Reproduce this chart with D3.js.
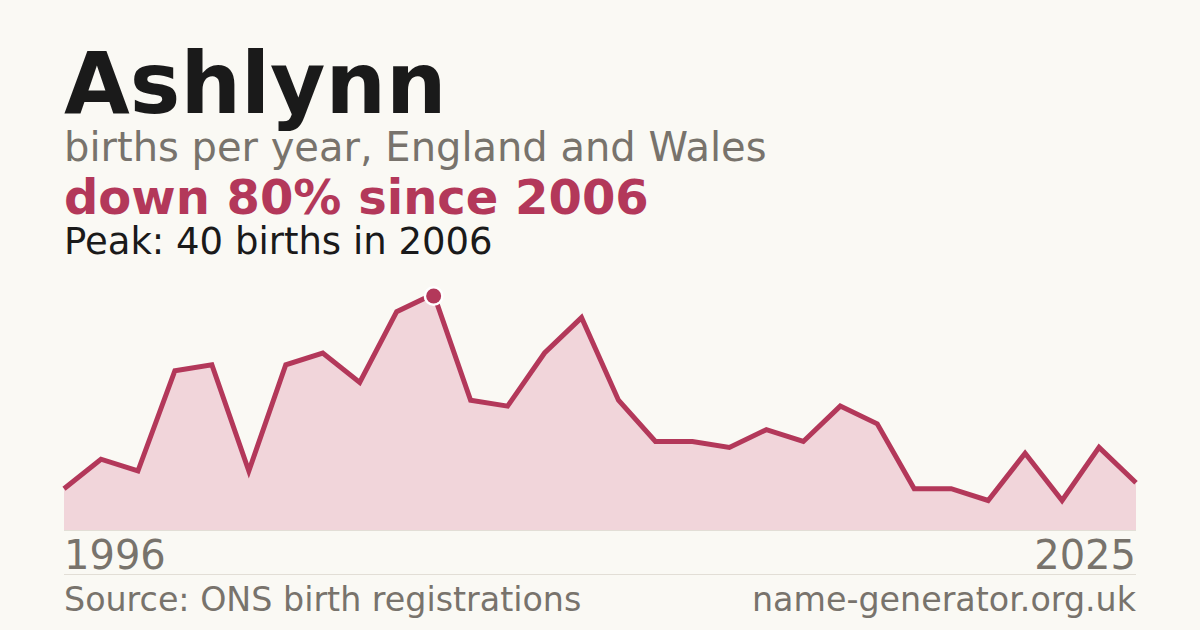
<!DOCTYPE html>
<html>
<head>
<meta charset="utf-8">
<script src="https://cdn.jsdelivr.net/npm/d3@7"></script>
<style>
  html, body { margin: 0; padding: 0; background: #faf9f4; }
  svg { display: block; font-family: "DejaVu Sans", sans-serif; }
</style>
</head>
<body>
<div id="chart"></div>
<script>
var years = d3.range(1996, 2026);
var births = [7, 12, 10, 27, 28, 10, 28, 30, 25, 37, 40, 22, 21, 30, 36, 22, 15, 15, 14, 17, 15, 21, 18, 7, 7, 5, 13, 5, 14, 8];
var peakYear = 2006;
var peakValue = 40;

function drawChart() {
    var width = 1200, height = 630;
    var left = 64, right = 1136, top = 294, bottom = 530;
    var accent = '#b3385a', grey = '#78736c';

    var svg = d3.select('#chart').append('svg')
        .attr('width', width)
        .attr('height', height);

    svg.append('rect').attr('width', width).attr('height', height).attr('fill', '#faf9f4');

    var x = d3.scaleLinear().domain([years[0], years[years.length - 1]]).range([left, right]);
    var y = d3.scaleLinear().domain([0, peakValue]).range([bottom, top]);

    var data = years.map(function(yr, i) { return {year: yr, value: births[i]}; });

    svg.append('path')
        .datum(data)
        .attr('fill', '#f1d5da')
        .attr('d', d3.area()
            .x(function(d) { return x(d.year); })
            .y0(bottom)
            .y1(function(d) { return y(d.value); }));

    svg.append('line')
        .attr('x1', left).attr('x2', right)
        .attr('y1', bottom + 0.5).attr('y2', bottom + 0.5)
        .attr('stroke', '#e2ded6').attr('stroke-width', 1);

    svg.append('path')
        .datum(data)
        .attr('fill', 'none')
        .attr('stroke', accent)
        .attr('stroke-width', 5)
        .attr('stroke-linejoin', 'miter')
        .attr('d', d3.line()
            .x(function(d) { return x(d.year); })
            .y(function(d) { return y(d.value); }));

    // peak marker with white halo
    svg.append('circle')
        .attr('cx', x(peakYear))
        .attr('cy', y(peakValue) + 2)
        .attr('r', 10)
        .attr('fill', '#ffffff');
    svg.append('circle')
        .attr('cx', x(peakYear))
        .attr('cy', y(peakValue) + 2)
        .attr('r', 7.5)
        .attr('fill', accent);

    // header text
    svg.append('text').attr('x', left).attr('y', 113)
        .attr('font-size', 85).attr('font-weight', 'bold').attr('fill', '#1a1a1a')
        .text('Ashlynn');
    svg.append('text').attr('x', left).attr('y', 161)
        .attr('font-size', 40).attr('fill', grey)
        .text('births per year, England and Wales');
    svg.append('text').attr('x', left).attr('y', 214)
        .attr('font-size', 48).attr('font-weight', 'bold').attr('fill', accent)
        .text('down 80% since ' + peakYear);
    svg.append('text').attr('x', left).attr('y', 254)
        .attr('font-size', 37).attr('fill', '#1a1a1a')
        .text('Peak: ' + peakValue + ' births in ' + peakYear);

    // year labels
    svg.append('text').attr('x', left).attr('y', 569)
        .attr('font-size', 40).attr('fill', grey)
        .text(years[0]);
    svg.append('text').attr('x', right).attr('y', 569)
        .attr('font-size', 40).attr('fill', grey).attr('text-anchor', 'end')
        .text(years[years.length - 1]);

    svg.append('line')
        .attr('x1', left).attr('x2', right)
        .attr('y1', 574.5).attr('y2', 574.5)
        .attr('stroke', '#e2ded6').attr('stroke-width', 1);

    svg.append('text').attr('x', left).attr('y', 611)
        .attr('font-size', 33.3).attr('fill', grey)
        .text('Source: ONS birth registrations');
    svg.append('text').attr('x', right).attr('y', 611)
        .attr('font-size', 33.3).attr('fill', grey).attr('text-anchor', 'end')
        .text('name-generator.org.uk');
}

document.addEventListener('DOMContentLoaded', drawChart);
</script>
</body>
</html>
